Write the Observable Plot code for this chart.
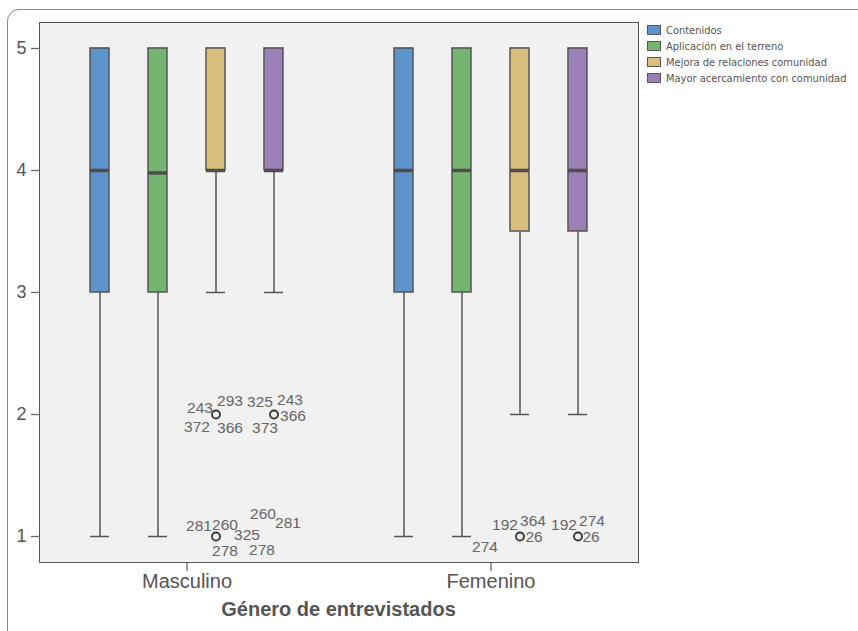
<!DOCTYPE html>
<html>
<head>
<meta charset="utf-8">
<script src="https://cdn.jsdelivr.net/npm/d3@7"></script>
<script src="https://cdn.jsdelivr.net/npm/@observablehq/plot@0.6"></script>
<style>
  html, body { margin: 0; padding: 0; background: #fff; }
  #wrap { position: relative; width: 858px; height: 631px; overflow: hidden; font-family: "Liberation Sans", Arial, sans-serif; }
  #outer { position: absolute; left: 7px; top: 9px; width: 900px; height: 700px; border: 1px solid #8a8a8a; border-radius: 12px; box-sizing: border-box; }
  #area { position: absolute; left: 39px; top: 22px; width: 600px; height: 541px; background: #f0f1f0; border: 1px solid #555; box-sizing: border-box; }
  #chart { position: absolute; left: 0; top: 0; }
  #legend { position: absolute; left: 647px; top: 22px; font-family: "DejaVu Sans Condensed", "Liberation Sans", sans-serif; font-size: 11px; color: #555; white-space: nowrap; }
  .item { display: flex; align-items: center; height: 16px; }
  .sw { height: 10px; border: 1px solid #555; margin-right: 5px; box-sizing: border-box; width: 14px; flex: none; }
  #xtitle { position: absolute; left: 39px; width: 599px; top: 597px; text-align: center; font-weight: bold; font-size: 20px; color: #555; line-height: 24px; }
</style>
</head>
<body>
<div id="wrap">
  <div id="outer"></div>
  <div id="area"></div>
  <div id="chart"></div>
  <div id="legend"></div>
  <div id="xtitle">Género de entrevistados</div>
</div>
<script>
// ---- data ----
const genders = ["Masculino", "Femenino"];
const variables = ["Contenidos", "Aplicación en el terreno", "Mejora de relaciones comunidad", "Mayor acercamiento con comunidad"];
const colors = ["#5f93cb", "#76b472", "#d8bf7d", "#9c7fb5"];
const yTicks = [1, 2, 3, 4, 5];

// box summaries, in variable order
const mascLow = [1, 1, 3, 3];
const mascQ1 = [3, 3, 4, 4];
const mascMedian = [4, 3.98, 4, 4];
const mascQ3 = [5, 5, 5, 5];
const mascHigh = [5, 5, 5, 5];

const femLow = [1, 1, 2, 2];
const femQ1 = [3, 3, 3.5, 3.5];
const femMedian = [4, 4, 4, 4];
const femQ3 = [5, 5, 5, 5];
const femHigh = [5, 5, 5, 5];

// outliers (circles)
const outlierGender = ["Masculino", "Masculino", "Masculino", "Femenino", "Femenino"];
const outlierVariable = [2, 3, 2, 2, 3];
const outlierValue = [2, 2, 1, 1, 1];

// outlier case labels
const labelText = ["243", "293", "372", "366",
                   "325", "243", "366", "373",
                   "281", "260", "278",
                   "325", "260", "281", "278",
                   "274",
                   "192", "364", "26",
                   "192", "274", "26"];
const labelGender = ["Masculino", "Masculino", "Masculino", "Masculino",
                     "Masculino", "Masculino", "Masculino", "Masculino",
                     "Masculino", "Masculino", "Masculino",
                     "Masculino", "Masculino", "Masculino", "Masculino",
                     "Femenino",
                     "Femenino", "Femenino", "Femenino",
                     "Femenino", "Femenino", "Femenino"];
const labelVariable = [2, 2, 2, 2, 3, 3, 3, 3, 2, 2, 2, 3, 3, 3, 3, 1, 2, 2, 2, 3, 3, 3];
const labelValue = [2, 2, 2, 2, 2, 2, 2, 2, 1, 1, 1, 1, 1, 1, 1, 1, 1, 1, 1, 1, 1, 1];

// ---- layout (label nudges around their case) ----
const labelDx = [-16, 14, -19, 14, -14, 16, 19, -9, -17, 9, 9, -27, -11, 14, -12, 23, -15, 13, 14, -14, 14, 13];
const labelDy = [-6, -13.5, 12.5, 14, -12.5, -14.5, 2, 14, -10, -11.5, 15, -1.5, -22.5, -13, 14, 11, -11.7, -15, 1, -11.7, -15, 1];

// ---- build tables ----
const boxes = [];
variables.forEach((v, i) => {
  boxes.push({gender: "Masculino", variable: v, low: mascLow[i], q1: mascQ1[i], median: mascMedian[i], q3: mascQ3[i], high: mascHigh[i]});
  boxes.push({gender: "Femenino", variable: v, low: femLow[i], q1: femQ1[i], median: femMedian[i], q3: femQ3[i], high: femHigh[i]});
});
const outliers = outlierGender.map((g, i) => ({gender: g, variable: variables[outlierVariable[i]], value: outlierValue[i]}));
const labels = labelText.map((t, i) => ({text: t, gender: labelGender[i], variable: variables[labelVariable[i]], value: labelValue[i], dx: labelDx[i], dy: labelDy[i]}));

const boxStroke = "#555";

const marks = [
  Plot.axisY({ticks: yTicks, tickFormat: d3.format("d"), tickSize: 9, tickPadding: 5, fontSize: 18, label: null, stroke: "#666", strokeWidth: 1.3}),
  Plot.axisFx({anchor: "bottom", tickSize: 9, tickPadding: 2, fontSize: 20, label: null, stroke: "#666", strokeWidth: 1.3}),
  Plot.ruleX(boxes, {fx: "gender", x: "variable", y1: "low", y2: "high", stroke: boxStroke, strokeWidth: 1.5}),
  Plot.tickY(boxes, {fx: "gender", x: "variable", y: "low", stroke: boxStroke, strokeWidth: 1.5}),
  Plot.tickY(boxes, {fx: "gender", x: "variable", y: "high", stroke: boxStroke, strokeWidth: 1.5}),
  Plot.barY(boxes, {fx: "gender", x: "variable", y1: "q1", y2: "q3", fill: "variable", stroke: boxStroke, strokeWidth: 1.5}),
  Plot.tickY(boxes, {fx: "gender", x: "variable", y: "median", stroke: "#4d4d4d", strokeWidth: 3.5}),
  Plot.dot(outliers, {fx: "gender", x: "variable", y: "value", r: 4, stroke: "#333", strokeWidth: 1.8, fill: "none"})
];
labels.forEach(l => {
  marks.push(Plot.text([l], {fx: "gender", x: "variable", y: "value", text: "text", dx: l.dx, dy: l.dy,
    fill: "#666", fontSize: 15.5, fontFamily: "Liberation Sans, Arial, sans-serif"}));
});

const chart = Plot.plot({
  width: 858,
  height: 631,
  marginLeft: 39,
  marginRight: 220,
  marginTop: 22,
  marginBottom: 69,
  style: {background: "transparent", color: "#555", fontFamily: "Liberation Sans, Arial, sans-serif", overflow: "visible"},
  fx: {domain: genders, paddingInner: 0.036, paddingOuter: 0, label: null},
  x: {domain: variables, paddingInner: 0.678, paddingOuter: 0.83, axis: null},
  y: {domain: [0.787, 5.213]},
  color: {domain: variables, range: colors},
  marks
});
document.getElementById("chart").appendChild(chart);

// legend
const legend = document.getElementById("legend");
variables.forEach((v, i) => {
  const row = document.createElement("div");
  row.className = "item";
  const sw = document.createElement("div");
  sw.className = "sw";
  sw.style.background = colors[i];
  const t = document.createElement("span");
  t.textContent = v;
  row.appendChild(sw);
  row.appendChild(t);
  legend.appendChild(row);
});
</script>
</body>
</html>
